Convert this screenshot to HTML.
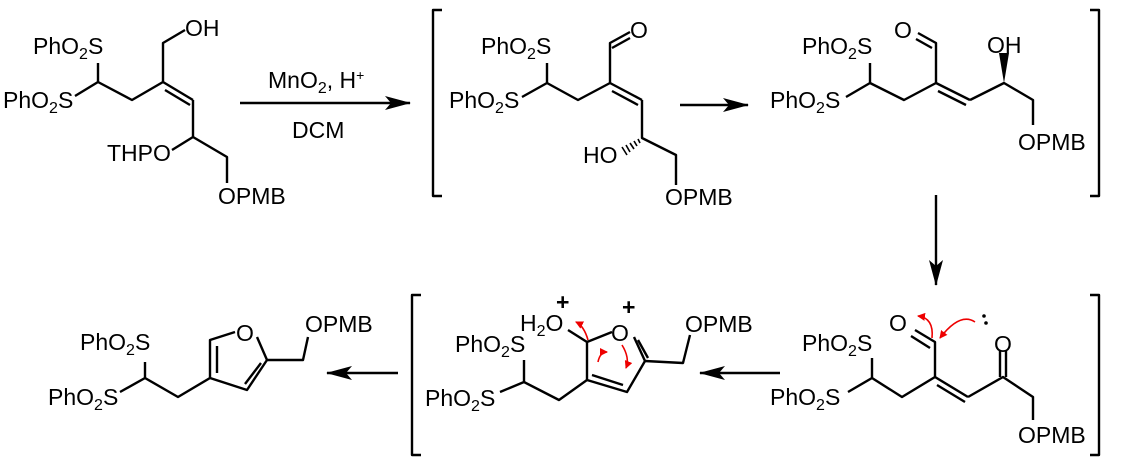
<!DOCTYPE html>
<html><head><meta charset="utf-8"><style>
html,body{margin:0;padding:0;background:#fff;}
svg{display:block;}
text{font-family:"Liberation Sans",Arial,sans-serif;font-size:23px;fill:#000;}
</style></head><body>
<svg width="1124" height="466" viewBox="0 0 1124 466" xmlns="http://www.w3.org/2000/svg">
<defs>
<marker id="ah" viewBox="0 0 26 14" refX="25" refY="7" markerWidth="26" markerHeight="14" markerUnits="userSpaceOnUse" orient="auto"><path d="M0,0 L26,7 L0,14 L6,7 Z" fill="#000"/></marker>
<marker id="rh" viewBox="0 0 8 8" refX="7" refY="4" markerWidth="8" markerHeight="8" markerUnits="userSpaceOnUse" orient="auto"><path d="M0,0 L8,4 L0,8 Z" fill="#e00"/></marker>
</defs>
<g stroke="#000" stroke-width="2.4" fill="none" stroke-linejoin="round">
<!-- Structure 1 -->
<polyline points="98,63 98,82 75,96"/>
<polyline points="98,82 132,100 163,82 163,43 185,30"/>
<line x1="163" y1="82" x2="193" y2="100"/>
<line x1="165" y1="90" x2="190" y2="105"/>
<polyline points="193,100 193,137 172,150"/>
<polyline points="193,137 227,157 227,183"/>
<line x1="240" y1="103" x2="410" y2="103" marker-end="url(#ah)"/>
<polyline points="442,10 433,10 433,196 442,196"/>
<polyline points="1090,10 1099,10 1099,196 1090,196"/>
<!-- Structure 2 -->
<polyline points="547,63 547,83 522,97"/>
<polyline points="547,83 578,100 610,83 610,43 630,32"/>
<line x1="612" y1="48" x2="630" y2="38"/>
<line x1="610" y1="83" x2="642" y2="100"/>
<line x1="612" y1="91" x2="638" y2="105"/>
<polyline points="642,100 642,138 676,155 676,185"/>
<line x1="680" y1="105" x2="748" y2="105" marker-end="url(#ah)"/>
<!-- Structure 3 -->
<polyline points="870,63 870,83 846,97"/>
<polyline points="870,83 904,100 936,83 936,43 918,33"/>
<line x1="932" y1="48" x2="916" y2="39"/>
<line x1="936" y1="83" x2="970" y2="100"/>
<line x1="938" y1="91" x2="966" y2="105"/>
<polyline points="970,100 1004,83 1033,100 1033,125"/>
<line x1="936" y1="195" x2="936" y2="285" marker-end="url(#ah)"/>
<polyline points="421,295 412,295 412,455 421,455"/>
<polyline points="1090,295 1099,295 1099,455 1090,455"/>
<!-- Structure 4 -->
<polyline points="872,358 872,378 848,392"/>
<polyline points="872,378 902,397 935,377 935,342 915,330"/>
<line x1="930" y1="348" x2="911" y2="336"/>
<line x1="935" y1="377" x2="968" y2="397"/>
<line x1="937" y1="385" x2="965" y2="402"/>
<polyline points="968,397 1003,377 1033,397 1033,420"/>
<line x1="1000" y1="377" x2="1000" y2="350"/>
<line x1="1006" y1="377" x2="1006" y2="350"/>
<line x1="780" y1="373" x2="700" y2="373" marker-end="url(#ah)"/>
<!-- Structure 5 -->
<polyline points="524,360 524,382 500,392"/>
<polyline points="524,382 559,400 587,380"/>
<polyline points="587,380 587,342 612,332"/>
<line x1="587" y1="342" x2="568" y2="330"/>
<polyline points="634,337 645,361 627,392 587,380"/>
<line x1="638" y1="340" x2="648" y2="358"/>
<line x1="592" y1="375" x2="623" y2="385"/>
<polyline points="645,361 683,363 690,335"/>
<line x1="398" y1="373" x2="327" y2="373" marker-end="url(#ah)"/>
<!-- Structure 6 -->
<polyline points="145,362 145,378 120,392"/>
<polyline points="145,378 178,397 210,378"/>
<polyline points="210,378 210,340 235,332"/>
<line x1="217" y1="373" x2="217" y2="346"/>
<polyline points="257,337 267,360 247,390 210,378"/>
<line x1="261" y1="363" x2="245" y2="384"/>
<polyline points="267,360 303,360 308,337"/>
</g>
<path d="M1004,83 L999,53 L1009,53 Z" fill="#000"/>
<g stroke="#000" stroke-width="1.6">
<line x1="638" y1="139" x2="640" y2="143"/>
<line x1="634" y1="141" x2="637" y2="146"/>
<line x1="630" y1="143" x2="634" y2="149"/>
<line x1="626" y1="145" x2="630" y2="152"/>
<line x1="622" y1="147" x2="627" y2="155"/>
</g>
<g stroke="#e00" stroke-width="1.6" fill="none">
<path d="M975,322 Q960,312 940,338" marker-end="url(#rh)"/>
<path d="M932,338 Q934,318 918,316" marker-end="url(#rh)"/>
<path d="M588,340 Q584,326 576,322" marker-end="url(#rh)"/>
<path d="M598,362 Q600,352 607,352" marker-end="url(#rh)"/>
<path d="M622,345 Q630,358 626,368" marker-end="url(#rh)"/>
</g>
<circle cx="984" cy="316" r="1.8" fill="#000"/>
<circle cx="986" cy="323" r="1.8" fill="#000"/>
<text x="33" y="54">PhO<tspan font-size="16" dy="5">2</tspan><tspan dy="-5">S</tspan></text>
<text x="3" y="108">PhO<tspan font-size="16" dy="5">2</tspan><tspan dy="-5">S</tspan></text>
<text x="185" y="36">OH</text>
<text x="107" y="161">THPO</text>
<text x="218" y="204">OPMB</text>
<text x="268" y="88">MnO<tspan font-size="16" dy="5">2</tspan><tspan dy="-5">, H</tspan><tspan font-size="14" dy="-8">+</tspan></text>
<text x="292" y="138">DCM</text>

<text x="481" y="54">PhO<tspan font-size="16" dy="5">2</tspan><tspan dy="-5">S</tspan></text>
<text x="449" y="108">PhO<tspan font-size="16" dy="5">2</tspan><tspan dy="-5">S</tspan></text>
<text x="630" y="38">O</text>
<text x="583" y="163">HO</text>
<text x="665" y="205">OPMB</text>

<text x="802" y="54">PhO<tspan font-size="16" dy="5">2</tspan><tspan dy="-5">S</tspan></text>
<text x="770" y="108">PhO<tspan font-size="16" dy="5">2</tspan><tspan dy="-5">S</tspan></text>
<text x="894" y="38">O</text>
<text x="987" y="53">OH</text>
<text x="1018" y="150">OPMB</text>

<text x="802" y="351">PhO<tspan font-size="16" dy="5">2</tspan><tspan dy="-5">S</tspan></text>
<text x="770" y="405">PhO<tspan font-size="16" dy="5">2</tspan><tspan dy="-5">S</tspan></text>
<text x="889" y="331">O</text>
<text x="994" y="352">O</text>
<text x="1018" y="443">OPMB</text>

<text x="455" y="352">PhO<tspan font-size="16" dy="5">2</tspan><tspan dy="-5">S</tspan></text>
<text x="425" y="406">PhO<tspan font-size="16" dy="5">2</tspan><tspan dy="-5">S</tspan></text>
<text x="520" y="331">H<tspan font-size="16" dy="5">2</tspan><tspan dy="-5">O</tspan></text>
<text x="556" y="310" font-size="20" font-weight="bold">+</text>
<text x="611" y="341">O</text>
<text x="622" y="315" font-size="20" font-weight="bold">+</text>
<text x="685" y="332">OPMB</text>

<text x="80" y="350">PhO<tspan font-size="16" dy="5">2</tspan><tspan dy="-5">S</tspan></text>
<text x="48" y="405">PhO<tspan font-size="16" dy="5">2</tspan><tspan dy="-5">S</tspan></text>
<text x="236" y="341">O</text>
<text x="305" y="332">OPMB</text>
</svg>
</body></html>
